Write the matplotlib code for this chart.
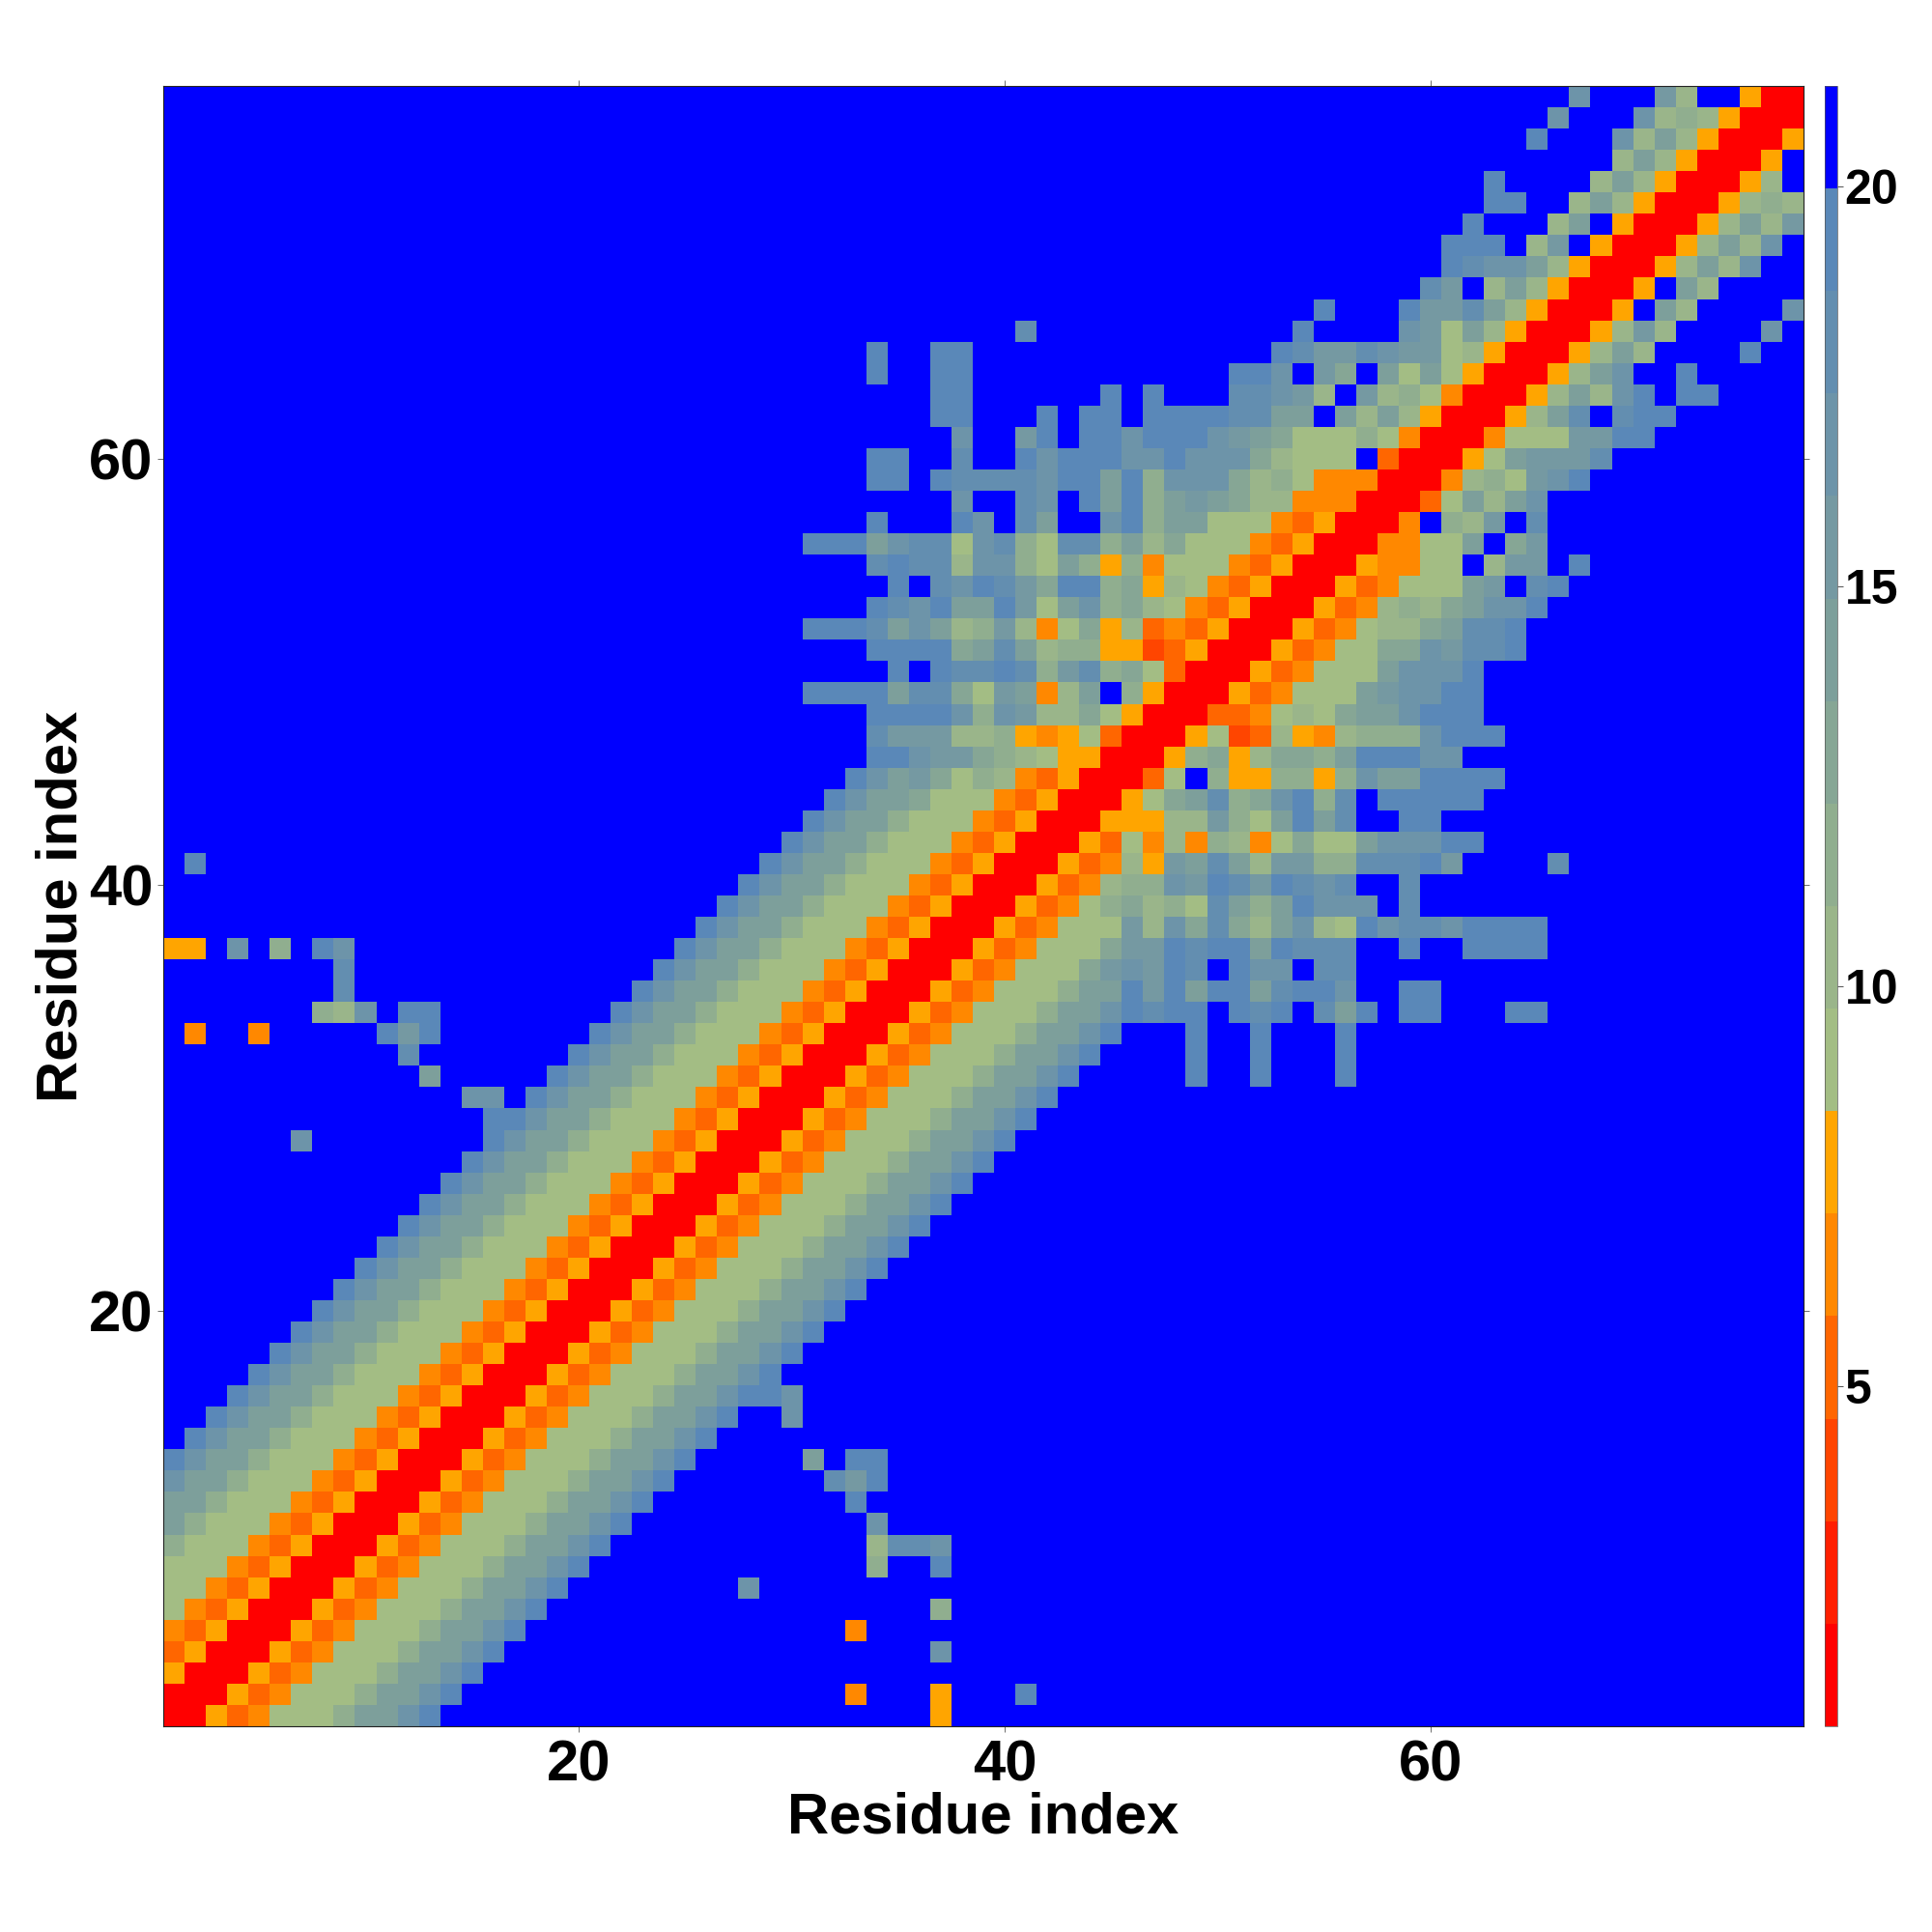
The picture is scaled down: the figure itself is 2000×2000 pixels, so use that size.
import numpy as np
import matplotlib
matplotlib.use("Agg")
import matplotlib.pyplot as plt
from matplotlib.colors import ListedColormap, BoundaryNorm

plt.rcParams['font.family'] = ['Liberation Sans', 'DejaVu Sans']
plt.rcParams['font.weight'] = 'bold'

# distance class of each residue pair.
# Each row i starts at residue j = i and runs outward; "." is beyond the last class.
CLASS_CODES = "012345" + "6789abcde" + "."
CLASS_COLORS = ["#ff0000", "#ff1f00", "#ff4500", "#ff6600", "#ff8800", "#ffa500",
                "#a3bd84", "#9ab58a", "#90ae8f", "#86a695", "#7d9f9b", "#7599a2",
                "#6d94a9", "#638eb0", "#5a88b8", "#0000ff"]
CLASS_EDGES = [0.75, 2.03, 3.31, 4.59, 5.88, 7.16, 8.44, 9.72, 11.0, 12.28,
               13.56, 14.84, 16.13, 17.41, 18.69, 19.97, 21.25]

ROWS = [
    "005346668aace",  # 1
    "005346668aace",
    "005346668aace",
    "005346668aace",
    "005346668aace",  # 5
    "005346668aace",
    "005346668aace",
    "005346668aace",
    "005346668aace",
    "005346668aace",  # 10
    "005346668aace",
    "005346668aace",
    "005346668aace",
    "005346668aace",
    "005346668aace",  # 15
    "005346668aaceec",
    "005346668aace",
    "005346668aace",
    "005346668aace",
    "005346668aace",  # 20
    "005346668aace",
    "005346668aace",
    "005346668aace",
    "005346668aace",
    "005346668aace",  # 25
    "005346668aace",
    "005346668aace",
    "005346668aace",
    "005346668aace",
    "005346668aace",  # 30
    "005346668aace",
    "005346668aace",
    "005346668aace",
    "005346668aacedee.ede.dae.ee...ee",  # 34
    "005346668aaebeaeeadeec..ee",  # 35
    "005346669bcbed.ecc.dd",  # 36
    "005346669bbedeeaeddd..e..eeee",  # 37
    "00534666b7c9d97ac76ecddceeee",  # 38
    "00534689786da8aeccc.d",  # 39
    "00534788cbedbedcd..d",  # 40
    "0053475bada7bb88dddeb....d",  # 41
    "0053647487469" "66accc" "ee",  # 42
    "0055577b86aead..ee",  # 43
    "00569ad89ce8d.eeeee",  # 44
    "0036.8558858caaeeee",  # 45
    "0058957998aeeecc",  # 46
    "005623754" "7888ceee",  # 47
    "003346769aaceee",  # 48
    "00534666abccee",  # 49
    "00534666accce",  # 50
    "005346699cbdde",  # 51
    "005346779adde",  # 52
    "005347879acce",  # 53
    "00534666ab.de",  # 54
    "0054466.7bb.e",  # 55
    "004466a.9b",  # 56
    "004.87b.d",  # 57
    "0036a7ac",  # 58
    "004786bce",  # 59
    "0056abbbd",  # 60
    "004666bbee",  # 61
    "0057ad.dee",  # 62
    "0057a7ce.ee",  # 63
    "0057ac..e",  # 64
    "0057a7....e",  # 65
    "0057b7....c",  # 66
    "005.a7....c",  # 67
    "005.a7",  # 68
    "0057a7c",  # 69
    "0057a7c",  # 70
    "0057a7b",  # 71
    "005787",  # 72
    "0057.",  # 73
    "005",  # 74
    "005",  # 75
    "00",  # 76
    "0",  # 77
]

# isolated long-range contacts: residue i, residue j, class code
FAR_I = [1, 2, 2, 2, 4, 5, 6, 7, 8, 8, 9, 9, 9, 9, 10, 11, 12, 12, 12, 13, 13, 13, 15,
         31, 31, 31, 32, 32, 32, 33, 33, 33]
FAR_J = [37, 33, 37, 41, 37, 33, 37, 28, 34, 37, 34, 35, 36, 37, 34, 33, 32, 33, 34, 31, 33, 34, 30,
         49, 52, 56, 49, 52, 56, 49, 52, 56]
FAR_CODE = list("5" "45e" "c" "4" "8" "c" "8e" "7ddc" "c" "e" "dbe" "aee" "c"
                "eee" "eee" "eee")

X_TICKS = [20, 40, 60]
Y_TICKS = [20, 40, 60]
CBAR_TICKS = [5, 10, 15, 20]
AXIS_LABEL = "Residue index"

N = 77
edges = np.array(CLASS_EDGES)
class_value = (edges[:-1] + edges[1:]) / 2
dist = np.full((N, N), class_value[-1])
for i, row in enumerate(ROWS):
    for k, code in enumerate(row):
        j = i + k
        if j < N:
            dist[i, j] = dist[j, i] = class_value[CLASS_CODES.index(code)]
for a, b, code in zip(FAR_I, FAR_J, FAR_CODE):
    dist[a - 1, b - 1] = dist[b - 1, a - 1] = class_value[CLASS_CODES.index(code)]

cmap = ListedColormap(CLASS_COLORS)
norm = BoundaryNorm(edges, cmap.N)

S = 2000.0
fig = plt.figure(figsize=(20, 20), dpi=100, facecolor="white")
ax = fig.add_axes([169 / S, 1 - 1787 / S, 1698 / S, 1698 / S])
res = np.arange(1, N + 1)
mesh = ax.pcolormesh(res, res, dist, cmap=cmap, norm=norm, shading="nearest",
                     antialiased=False, linewidth=0)
ax.set_xlim(0.5, 77.5)
ax.set_ylim(0.5, 77.5)
ax.set_xticks(X_TICKS)
ax.set_yticks(Y_TICKS)
ax.tick_params(axis="both", which="major", direction="out", length=4.5, width=0.6,
               color="#555555", labelsize=43, top=True, right=True)
ax.tick_params(axis="x", pad=5)
ax.tick_params(axis="y", pad=3.2)
for s in ax.spines.values():
    s.set_linewidth(0.8)
    s.set_color("#222222")
ax.set_xlabel(AXIS_LABEL, fontsize=43, fontweight="bold", labelpad=-0.7)
ax.set_ylabel(AXIS_LABEL, fontsize=43, fontweight="bold", labelpad=0)

cax = fig.add_axes([1889 / S, 1 - 1787 / S, 13 / S, 1698 / S])
cb = fig.colorbar(mesh, cax=cax, ticks=CBAR_TICKS, spacing="proportional")
cb.ax.minorticks_off()
cb.ax.tick_params(which="major", length=4, width=0.6, color="#333333", labelsize=36, pad=1.5)
cb.outline.set_linewidth(0.5)
cb.outline.set_edgecolor("#555555")

fig.savefig("out.png", dpi=100, facecolor="white")
